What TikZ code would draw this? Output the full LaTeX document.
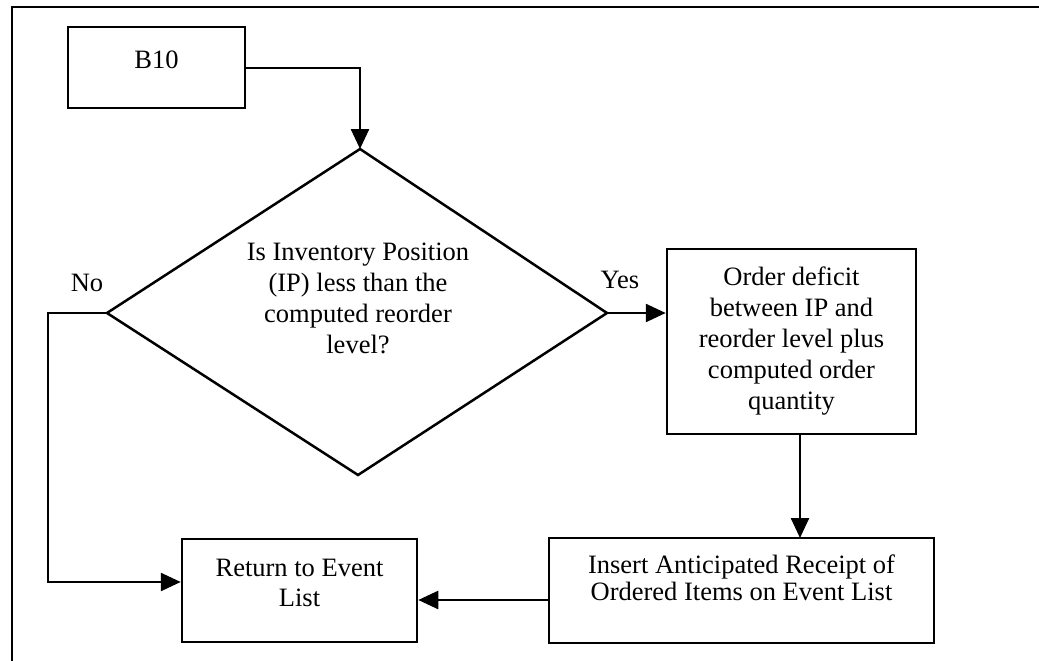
\documentclass[tikz,border=0pt]{standalone}
\usepackage{fontspec}
\setmainfont{Liberation Serif}
\usetikzlibrary{arrows.meta}
\begin{document}
\begin{tikzpicture}[x=1pt,y=-1pt,
  ln/.style={line width=2.5pt},
  arr/.style={ln,-{Triangle[length=20pt,width=18pt]}},
  box/.style={draw,ln,rectangle,inner sep=0pt,align=center,font=\fontsize{26.5}{31}\selectfont},
  lbl/.style={font=\fontsize{26.5}{31}\selectfont,inner sep=0pt,align=center}]
\useasboundingbox (0,0) rectangle (1039,661);
% frame
\draw[ln] (1039,7) -- (12,7) -- (12,661);
% B10 box
\node[box,minimum width=177pt,minimum height=81pt,
  label={[lbl,yshift=7.5pt]center:B10}] (b10) at (156.5,67.5) {};
% diamond
\coordinate (dt) at (360,149);
\coordinate (dl) at (107,313);
\coordinate (dr) at (607,313);
\coordinate (db) at (358,475);
\draw[ln,line join=miter] (dt) -- (dr) -- (db) -- (dl) -- cycle;
\node[lbl] (q) at (358,298.5) {Is Inventory Position\\(IP) less than the\\computed reorder\\level?};
% order box
\node[box,minimum width=249pt,minimum height=185pt] (order) at (791.5,341.5) {Order deficit\\between IP and\\reorder level plus\\computed order\\quantity};
% insert box
\node[box,minimum width=385pt,minimum height=105pt,
  label={[lbl,font=\fontsize{26.5}{27}\selectfont,yshift=13pt]center:Insert Anticipated Receipt of\\Ordered Items on Event List}] (ins) at (741.5,590.5) {};
% return box
\node[box,minimum width=235pt,minimum height=103pt,
  label={[lbl,font=\fontsize{26.5}{30}\selectfont,yshift=7.5pt]center:Return to Event\\List}] (ret) at (299.5,590.5) {};
% labels
\node[lbl] (yes) at (620,280) {Yes};
\node[lbl] (no) at (87,283) {No};
% connectors
\draw[arr] (b10.east |- 0,68) -- (360,68) -- (dt);
\draw[arr] (dr) -- (order.west |- dr);
\coordinate (nocorner) at (48,313);
\draw[arr] (dl) -- (nocorner) -- (48,582) -- (ret.west |- 0,582);
\draw[arr] (800,434) -- (800,538);
\draw[arr] (ins.west |- 0,600) -- (ret.east |- 0,600);
\end{tikzpicture}
\end{document}
